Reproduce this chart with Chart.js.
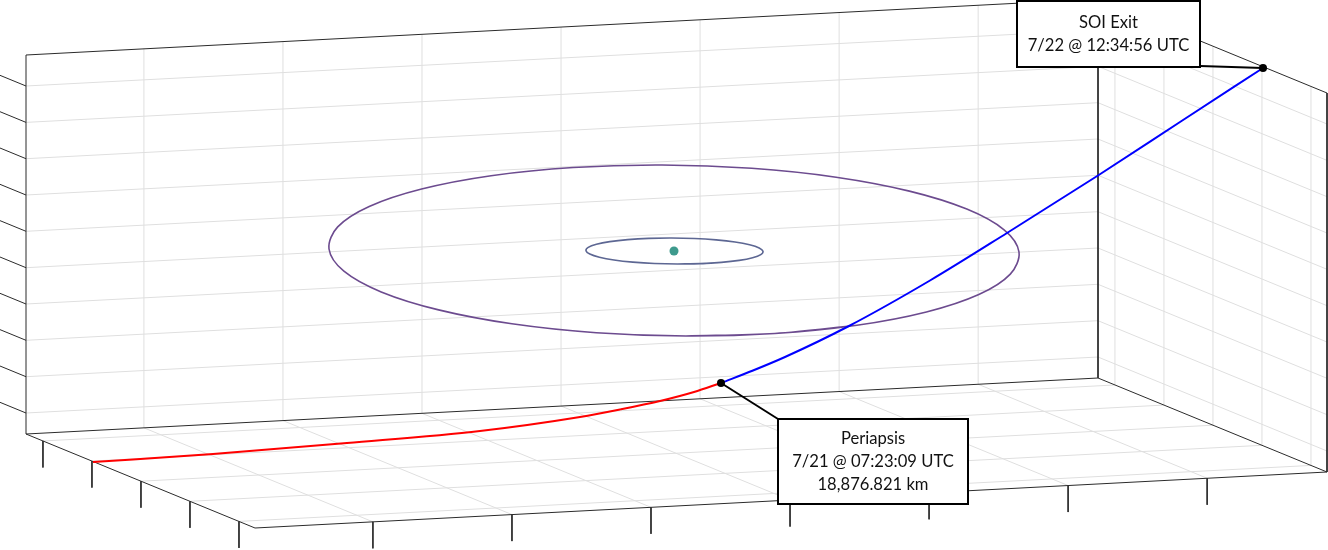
<!DOCTYPE html>
<html>
<head>
<meta charset="utf-8">
<script src="https://cdn.jsdelivr.net/npm/chart.js@4.4.0/dist/chart.umd.min.js"></script>
<style>
  html, body { margin: 0; padding: 0; background: #ffffff; }
  #wrap { width: 1328px; height: 550px; position: relative; }
</style>
</head>
<body>
<div id="wrap"><canvas id="c" width="1328" height="550"></canvas></div>
<script>
// ---------------- DATA (projected view-plane coordinates of the 3-D plot) ----------------
// inbound hyperbolic leg (red) up to periapsis
const inboundLeg = [[93,462],[213,454],[347,443],[480,431],[580,417],[620,409.5],[660,401],[694,392],[721,383]];
// outbound leg (blue) from periapsis to SOI exit
const outboundLeg = [[721,383],[753,370.5],[785,357],[848,326.5],[930,280.5],[1007,233],[1098,175.5],[1180,122],[1263,68]];
// large orbit (purple) – sampled round the ring, wrapped so the loop closes smoothly
const outerOrbit = [[856.9,325.3],[774.9,333.5],[686,336],[596.3,332.7],[511.9,323.8],[438.6,309.9],[381.2,291.95],[343.9,271.2],[329,249],
  [337.7,226.9],[369.2,206.45],[421.6,189],[491.1,175.7],[573.1,167.5],[662,165],[751.7,168.3],[836.1,177.2],[909.4,191.1],[966.8,209.05],
  [1004.1,229.8],[1019,252],[1010.3,274.1],[978.8,294.55],[926.4,312],[856.9,325.3],[774.9,333.5],[686,336]];
// small inner orbit
const innerOrbit = [[721.35,262.4],[700.3,263.64],[677.5,264],[654.5,263.5],[632.85,262.1],[614,259.98],[599.4,257.24],[589.8,254.07],[586,250.7],
  [588.2,247.35],[596.4,244.24],[609.8,241.6],[627.65,239.6],[648.7,238.36],[671.5,238],[694.5,238.5],[716.15,239.9],[735,242],[749.6,244.76],
  [759.2,247.93],[763,251.3],[760.8,254.65],[752.6,257.76],[739.2,260.4],[721.35,262.4],[700.3,263.64],[677.5,264]];
// central body
const centralBody = [[674,251]];
// events: periapsis, SOI exit
const eventPoints = [[721,383],[1263,68]];
const eventLabels = [
  ["Periapsis", "7/21 @ 07:23:09 UTC", "18,876.821 km"],
  ["SOI Exit", "7/22 @ 12:34:56 UTC"]
];
// axis ticks (fraction of each axis range); the plot shows no tick labels
const xTickFrac = [0.110, 0.2397, 0.3694, 0.4991, 0.6288, 0.7585, 0.8882];
const yTickFrac = [0.074, 0.288, 0.502, 0.716, 0.930];
const zTickFrac = [0.0554, 0.1512, 0.2472, 0.3430, 0.4388, 0.5348, 0.6306, 0.7264, 0.8222, 0.9182];

// ---------------- LAYOUT / PROJECTION (kept apart from data) ----------------
const view = { origin: [26, 434], ex: [1072, -56], ey: [229, 94], ez: [0, -379] };
const tickLen = { z: 0.115, xy: 0.07 };
const calloutLayout = [
  { box: [778, 419, 968, 504], attach: [778, 419] },
  { box: [1017, 1, 1200, 67], attach: [1200, 66] }
];
const style = {
  grid: '#dfdfdf', box: '#2b2b2b', inbound: '#ff0000', outbound: '#0000ff',
  outer: '#6c4b8f', inner: '#5d6793', body: '#3e9a8d', event: '#000000',
  font: '16.6px Lato, "Open Sans", sans-serif', lineGap: 23, capH: 11.8
};

function P(fx, fy, fz) {
  return { x: view.origin[0] + fx*view.ex[0] + fy*view.ey[0] + fz*view.ez[0],
           y: view.origin[1] + fx*view.ex[1] + fy*view.ey[1] + fz*view.ez[1] };
}
const GAP = { x: null, y: null };
function segs(list) { const out = []; list.forEach(s => { out.push(...s, GAP); }); return out; }
const toXY = a => a.map(p => ({ x: p[0], y: p[1] }));

// grid lines on the three back planes
const gridSegs = [];
xTickFrac.forEach(f => { gridSegs.push([P(f,0,0), P(f,0,1)]); gridSegs.push([P(f,0,0), P(f,1,0)]); });
zTickFrac.forEach(f => { gridSegs.push([P(0,0,f), P(1,0,f)]); gridSegs.push([P(1,0,f), P(1,1,f)]); });
yTickFrac.forEach(f => { gridSegs.push([P(0,f,0), P(1,f,0)]); gridSegs.push([P(1,f,0), P(1,f,1)]); });
// box edges
const boxSegs = [
  [P(0,0,0), P(0,0,1), P(1,0,1), P(1,0,0), P(0,0,0)],
  [P(0,0,0), P(0,1,0), P(1,1,0), P(1,0,0)],
  [P(1,0,1), P(1,1,1), P(1,1,0)]
];
// tick marks
const tickSegs = [];
zTickFrac.forEach(f => tickSegs.push([P(0,0,f), P(0,-tickLen.z,f)]));
yTickFrac.forEach(f => tickSegs.push([P(0,f,0), P(0,f,-tickLen.xy)]));
xTickFrac.forEach(f => tickSegs.push([P(f,1,0), P(f,1,-tickLen.xy)]));
// leader lines
const leaderSegs = calloutLayout.map((c, i) => [{ x: eventPoints[i][0], y: eventPoints[i][1] }, { x: c.attach[0], y: c.attach[1] }]);

const lineDS = (data, color, width, order, extra) => Object.assign({
  data, borderColor: color, backgroundColor: color, borderWidth: width, showLine: true,
  pointRadius: 0, pointHoverRadius: 0, fill: false, spanGaps: false, tension: 0, order
}, extra || {});

const calloutPlugin = {
  id: 'callouts',
  afterDatasetsDraw(chart) {
    const ctx = chart.ctx, sx = chart.scales.x, sy = chart.scales.y;
    ctx.save();
    calloutLayout.forEach((c, i) => {
      const x0 = sx.getPixelForValue(c.box[0]), y0 = sy.getPixelForValue(c.box[1]);
      const x1 = sx.getPixelForValue(c.box[2]), y1 = sy.getPixelForValue(c.box[3]);
      ctx.fillStyle = '#ffffff';
      ctx.fillRect(x0, y0, x1 - x0, y1 - y0);
      ctx.strokeStyle = '#000000';
      ctx.lineWidth = 2;
      ctx.strokeRect(x0, y0, x1 - x0, y1 - y0);
      const lines = eventLabels[i];
      ctx.font = style.font;
      ctx.fillStyle = '#111111';
      ctx.textAlign = 'center';
      ctx.textBaseline = 'alphabetic';
      const cx = (x0 + x1) / 2, cy = (y0 + y1) / 2;
      const first = cy - (lines.length - 1) * style.lineGap / 2 + style.capH / 2;
      lines.forEach((t, k) => ctx.fillText(t, cx, first + k * style.lineGap));
    });
    ctx.restore();
  }
};

new Chart(document.getElementById('c'), {
  type: 'scatter',
  data: {
    datasets: [
      lineDS(segs(gridSegs), style.grid, 1, 20),
      lineDS(segs(boxSegs), style.box, 1, 18),
      lineDS(segs(tickSegs), style.box, 1, 18),
      lineDS(toXY(outerOrbit), style.outer, 1.6, 12, { tension: 0.34 }),
      lineDS(toXY(innerOrbit), style.inner, 1.6, 11, { tension: 0.34 }),
      { data: toXY(centralBody), backgroundColor: style.body, borderWidth: 0, pointRadius: 4.5, pointHoverRadius: 4.5, order: 10 },
      lineDS(toXY(inboundLeg), style.inbound, 2, 6, { cubicInterpolationMode: 'monotone' }),
      lineDS(toXY(outboundLeg), style.outbound, 2, 5, { cubicInterpolationMode: 'monotone' }),
      lineDS(segs(leaderSegs), '#000000', 2, 3),
      { data: toXY(eventPoints), backgroundColor: style.event, borderWidth: 0, pointRadius: 4, pointHoverRadius: 4, order: 1 }
    ]
  },
  options: {
    responsive: false,
    animation: false,
    devicePixelRatio: 1,
    layout: { padding: 0, autoPadding: false },
    events: [],
    plugins: { legend: { display: false }, tooltip: { enabled: false } },
    scales: {
      x: { type: 'linear', min: 0, max: 1328, display: false },
      y: { type: 'linear', min: 0, max: 550, reverse: true, display: false }
    }
  },
  plugins: [calloutPlugin]
});
</script>
</body>
</html>
